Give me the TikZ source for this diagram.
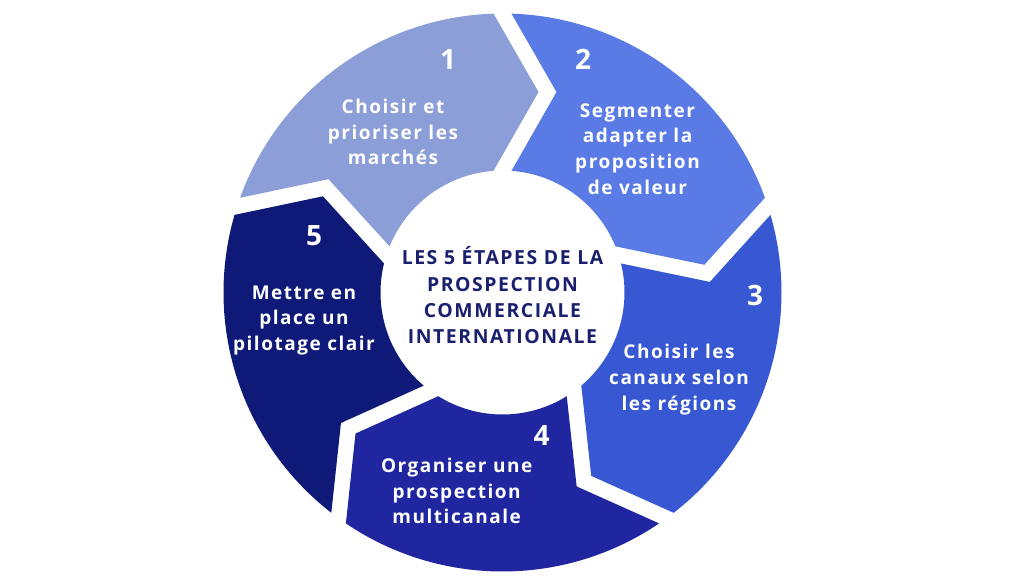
\documentclass[tikz,border=0pt]{standalone}
\usepackage{fontspec}
\setmainfont{Open Sans}[LetterSpace=8]
\usetikzlibrary{calc}
\definecolor{cA}{HTML}{8C9ED8}
\definecolor{cB}{HTML}{5A7BE5}
\definecolor{cC}{HTML}{3758D2}
\definecolor{cD}{HTML}{2026A0}
\definecolor{cE}{HTML}{0F1A78}
\definecolor{navy}{HTML}{1A1F6E}
\def\Ro{279}
\def\Ri{122}
\def\Rm{200.5}
\newcommand\ringseg[3]{%
  \fill[#3] (#1-1.85:\Ro) arc[start angle=#1-1.85, end angle=#2+1.85, radius=\Ro]
    -- ($(#2:\Rm)+(#2-90:36)$)
    -- (#2+4.23:\Ri) arc[start angle=#2+4.23, end angle=#1-4.23, radius=\Ri]
    -- ($(#1:\Rm)+(#1-90:54)$) -- cycle;}
\tikzset{
  lab/.style={align=center, text=white, font=\bfseries\fontsize{19}{25.8}\selectfont},
  num/.style={anchor=base, text=white, font=\bfseries\fontsize{28}{30}\selectfont},
  title/.style={align=center, text=navy, font=\bfseries\fontsize{19.4}{26.3}\selectfont}
}
\begin{document}
\begin{tikzpicture}[x=1pt,y=1pt]
\useasboundingbox[fill=white] (-502.5,-283.5) rectangle (521.5,292.5);
\ringseg{162}{90}{cA}
\ringseg{90}{18}{cB}
\ringseg{18}{-54}{cC}
\ringseg{-54}{-126}{cD}
\ringseg{-126}{-198}{cE}
\node[num] (n1) at (-54.5,222.5) {1};
\node[num] (n2) at (80.5,222.5) {2};
\node[num] (n3) at (252.5,-12.5) {3};
\node[num] (n4) at (39.2,-152.5) {4};
\node[num] (n5) at (-188.5,47.5) {5};
\node[lab] (t1) at (-109.5,160.5) {Choisir et\\prioriser les\\marchés};
\node[lab] (t2) at (135,143.5) {Segmenter\\adapter la\\proposition\\de valeur};
\node[lab] (t3) at (176.5,-86.8) {Choisir les\\canaux selon\\les régions};
\node[lab] (t4) at (-45.8,-198.5) {Organiser une\\prospection\\multicanale};
\node[lab] (t5) at (-198.5,-27.8) {Mettre en\\place un\\pilotage clair};
\node[title] (tc) at (0,-3) {LES 5 ÉTAPES DE LA\\PROSPECTION\\COMMERCIALE\\INTERNATIONALE};
\end{tikzpicture}
\end{document}
